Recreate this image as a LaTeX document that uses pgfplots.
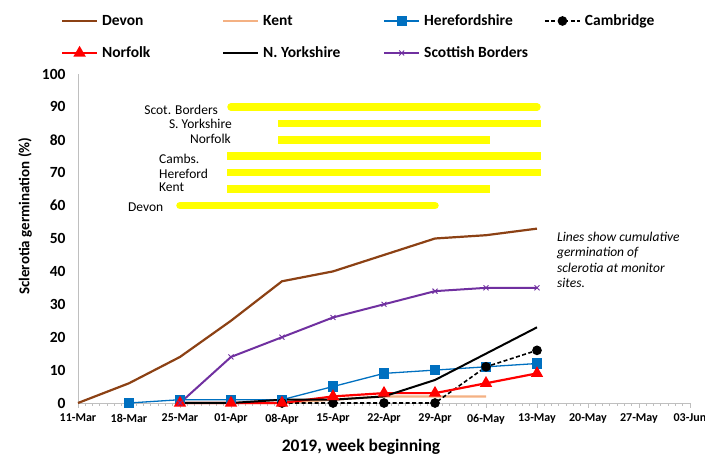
\documentclass[border=0pt]{standalone}
\usepackage{fontspec}
\setmainfont{Carlito}
\usepackage{pgfplots}
\pgfplotsset{compat=1.18}
\definecolor{devon}{RGB}{140,65,20}
\definecolor{kent}{RGB}{244,177,131}
\definecolor{hereford}{RGB}{0,112,192}
\definecolor{scot}{RGB}{112,48,160}
\definecolor{axgray}{RGB}{191,191,191}
\definecolor{yel}{RGB}{255,255,0}
\begin{document}
\begin{tikzpicture}
\path[use as bounding box] (0,0) rectangle (705pt,455pt);
\begin{axis}[
  at={(78pt,52pt)}, anchor=south west,
  scale only axis, width=612pt, height=329pt,
  xmin=0, xmax=12, ymin=0, ymax=100,
  clip=false,
  axis x line*=bottom, axis y line*=left,
  axis line style={axgray, line width=0.8pt, -},
  tick align=outside,
  major tick length=5pt, minor tick length=3pt,
  xtick={0,...,12},
  xticklabels={11-Mar,18-Mar,25-Mar,01-Apr,08-Apr,15-Apr,22-Apr,29-Apr,06-May,13-May,20-May,27-May,03-Jun},
  minor x tick num=6,
  xtick style={axgray, line width=0.8pt},
  ytick={0,10,...,100},
  ytick style={draw=none},
  /pgf/number format/assume math mode=true,
  xticklabel style={font=\bfseries\fontsize{12}{14}\selectfont, yshift=-2.5pt},
  yticklabel style={font=\bfseries\fontsize{15.5}{17}\selectfont, xshift=-4pt},
  xlabel={2019, week beginning},
  ylabel={Sclerotia germination (\%)},
  xlabel style={font=\bfseries\fontsize{17.5}{19}\selectfont, at={(axis description cs:0.4624,-0.1337)}, anchor=center},
  ylabel style={font=\bfseries\fontsize{15}{17}\selectfont, at={(axis description cs:-0.0866,0.568)}, anchor=center},
  legend columns=4,
  legend image code/.code={%
    \path[draw=none,fill=none] (0pt,-7pt) rectangle (40pt,7pt);
    \draw[mark repeat=2,mark phase=2,#1] plot coordinates {(0pt,0pt) (17.5pt,0pt) (35pt,0pt)};},
  legend style={at={(axis description cs:-0.0278,1.1824)}, anchor=north west,
    draw=none, fill=none, inner sep=0pt, outer sep=0pt,
    column sep=0pt,
    row sep=18pt, cells={anchor=west},
    font=\bfseries\fontsize{15.5}{17}\selectfont,
    nodes={inner sep=0pt, text height=12pt, text depth=2pt}},
]
% yellow period bars
\addplot[forget plot, yel, line width=7.5pt, line cap=round] coordinates {(3,90) (9,90)};
\addplot[forget plot, yel, line width=7.5pt, line cap=rect] coordinates {(4,85) (9,85)};
\addplot[forget plot, yel, line width=7.5pt, line cap=rect] coordinates {(4,80) (8,80)};
\addplot[forget plot, yel, line width=7.5pt, line cap=rect] coordinates {(3,75) (9,75)};
\addplot[forget plot, yel, line width=7.5pt, line cap=rect] coordinates {(3,70) (9,70)};
\addplot[forget plot, yel, line width=7.5pt, line cap=rect] coordinates {(3,65) (8,65)};
\addplot[forget plot, yel, line width=7.5pt, line cap=round] coordinates {(2,60) (7,60)};
% series
\addplot[devon, line width=2.2pt, no markers] coordinates {(0,0) (1,6) (2,14) (3,25) (4,37) (5,40) (6,45) (7,50) (8,51) (9,53)};
\addlegendentry{\makebox[120pt][l]{Devon}}
\addplot[kent, line width=2.2pt, no markers] coordinates {(2,0) (3,0) (4,0) (5,1) (6,2) (7,2) (8,2)};
\addlegendentry{\makebox[120pt][l]{Kent}}
\addplot[hereford, line width=1.3pt, mark=square*, mark size=4.5pt] coordinates {(1,0) (2,1) (3,1) (4,1) (5,5) (6,9) (7,10) (8,11) (9,12)};
\addlegendentry{\makebox[120pt][l]{Herefordshire}}
\addplot[black, line width=1.6pt, dash pattern=on 4pt off 2.5pt, mark=*, mark size=4pt, mark options={solid}] coordinates {(4,0) (5,0) (6,0) (7,0) (8,11) (9,16)};
\addlegendentry{\makebox[120pt][l]{Cambridge}}
\addplot[red, line width=2.2pt, mark=triangle*, mark size=5pt] coordinates {(2,0) (3,0) (4,0) (5,2) (6,3) (7,3) (8,6) (9,9)};
\addlegendentry{\makebox[120pt][l]{Norfolk}}
\addplot[black, line width=2pt, no markers] coordinates {(2,0) (3,0) (4,1) (5,1) (6,2) (7,7) (8,15) (9,23)};
\addlegendentry{\makebox[120pt][l]{N. Yorkshire}}
\addplot[scot, line width=2pt, mark=x, mark size=3.5pt, mark options={line width=0.9pt}] coordinates {(2,0) (3,14) (4,20) (5,26) (6,30) (7,34) (8,35) (9,35)};
\addlegendentry{\makebox[120pt][l]{Scottish Borders}}
% bar labels
\begin{scope}[font=\fontsize{13.5}{15}\selectfont]
\node[anchor=east, inner sep=0pt] at (axis cs:2.745,89.1) {Scot. Borders};
\node[anchor=east, inner sep=0pt] at (axis cs:3.02,84.8) {S. Yorkshire};
\node[anchor=east, inner sep=0pt] at (axis cs:3.0,80.2) {Norfolk};
\node[anchor=west, inner sep=0pt] at (axis cs:1.588,74.2) {Cambs.};
\node[anchor=west, inner sep=0pt] at (axis cs:1.588,69.6) {Hereford};
\node[anchor=west, inner sep=0pt] at (axis cs:1.588,65.7) {Kent};
\node[anchor=west, inner sep=0pt] at (axis cs:0.98,59.6) {Devon};
\end{scope}
\node[anchor=north west, inner sep=0pt, align=left, font=\itshape\fontsize{13.5}{15.3}\selectfont] at (axis cs:9.39,52.0) {Lines show cumulative\\germination of\\sclerotia at monitor\\sites.};
\end{axis}
\end{tikzpicture}
\end{document}
